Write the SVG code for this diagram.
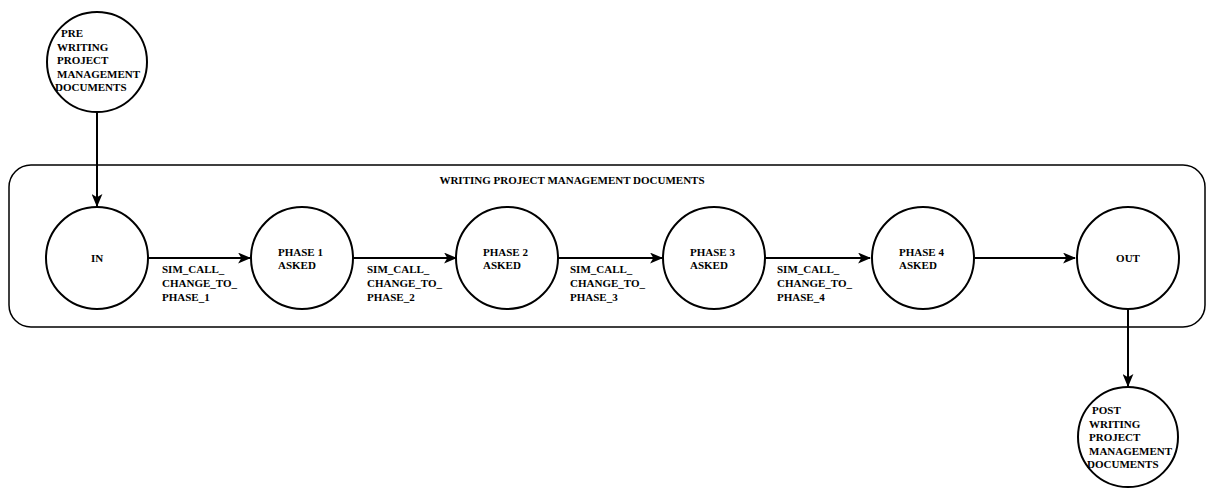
<svg xmlns="http://www.w3.org/2000/svg" width="1214" height="488" viewBox="0 0 1214 488">
<style>
.n{fill:#fff;stroke:#000;stroke-width:2}
.c{fill:none;stroke:#000;stroke-width:1.5}
.e{fill:none;stroke:#000;stroke-width:2;marker-end:url(#a)}
text{font-family:"Liberation Serif","Times New Roman",serif;font-weight:bold;font-size:11px;fill:#000}
.m{text-anchor:middle}
</style>
<defs>
<marker id="a" viewBox="0 0 12 10" refX="11" refY="5" markerWidth="6.5" markerHeight="5.5" orient="auto" markerUnits="strokeWidth">
<path d="M0,0 L12,5 L0,10 L3,5 Z" fill="#000"/>
</marker>
</defs>
<g id="container">
<rect class="c" x="9" y="165" width="1196" height="162" rx="22" ry="22"/>
<text class="m" x="572" y="184">WRITING PROJECT MANAGEMENT DOCUMENTS</text>
</g>
<g id="connectors">
<path class="e" d="M97,112 L97,206"/>
<path class="e" d="M148,258 L250,258"/>
<path class="e" d="M353,258 L456,258"/>
<path class="e" d="M558,258 L662,258"/>
<path class="e" d="M765,258 L870,258"/>
<path class="e" d="M975,258 L1075,258"/>
<path class="e" d="M1128,309 L1128,386"/>
<text x="162" y="273">SIM_CALL_</text>
<text x="162" y="287">CHANGE_TO_</text>
<text x="162" y="301">PHASE_1</text>
<text x="367" y="273">SIM_CALL_</text>
<text x="367" y="287">CHANGE_TO_</text>
<text x="367" y="301">PHASE_2</text>
<text x="570" y="273">SIM_CALL_</text>
<text x="570" y="287">CHANGE_TO_</text>
<text x="570" y="301">PHASE_3</text>
<text x="777" y="273">SIM_CALL_</text>
<text x="777" y="287">CHANGE_TO_</text>
<text x="777" y="301">PHASE_4</text>
</g>
<g id="pre">
<circle class="n" cx="97" cy="62" r="50"/>
<text x="61" y="37">PRE</text>
<text x="57" y="50.5">WRITING</text>
<text x="57" y="64">PROJECT</text>
<text x="57" y="77.5">MANAGEMENT</text>
<text x="55" y="91">DOCUMENTS</text>
</g>
<g id="in">
<circle class="n" cx="97" cy="258" r="51"/>
<text class="m" x="97" y="262">IN</text>
</g>
<g id="phase1">
<circle class="n" cx="302" cy="258" r="51"/>
<text x="278" y="256">PHASE 1</text>
<text x="278" y="269">ASKED</text>
</g>
<g id="phase2">
<circle class="n" cx="507" cy="258" r="51"/>
<text x="483" y="256">PHASE 2</text>
<text x="483" y="269">ASKED</text>
</g>
<g id="phase3">
<circle class="n" cx="714" cy="258" r="51"/>
<text x="690" y="256">PHASE 3</text>
<text x="690" y="269">ASKED</text>
</g>
<g id="phase4">
<circle class="n" cx="923" cy="258" r="51"/>
<text x="899" y="256">PHASE 4</text>
<text x="899" y="269">ASKED</text>
</g>
<g id="out">
<circle class="n" cx="1128" cy="258" r="51"/>
<text class="m" x="1128" y="262">OUT</text>
</g>
<g id="post">
<circle class="n" cx="1128" cy="437" r="50"/>
<text x="1092" y="414">POST</text>
<text x="1089" y="427.5">WRITING</text>
<text x="1089" y="441">PROJECT</text>
<text x="1089" y="454.5">MANAGEMENT</text>
<text x="1087" y="468">DOCUMENTS</text>
</g>
</svg>
